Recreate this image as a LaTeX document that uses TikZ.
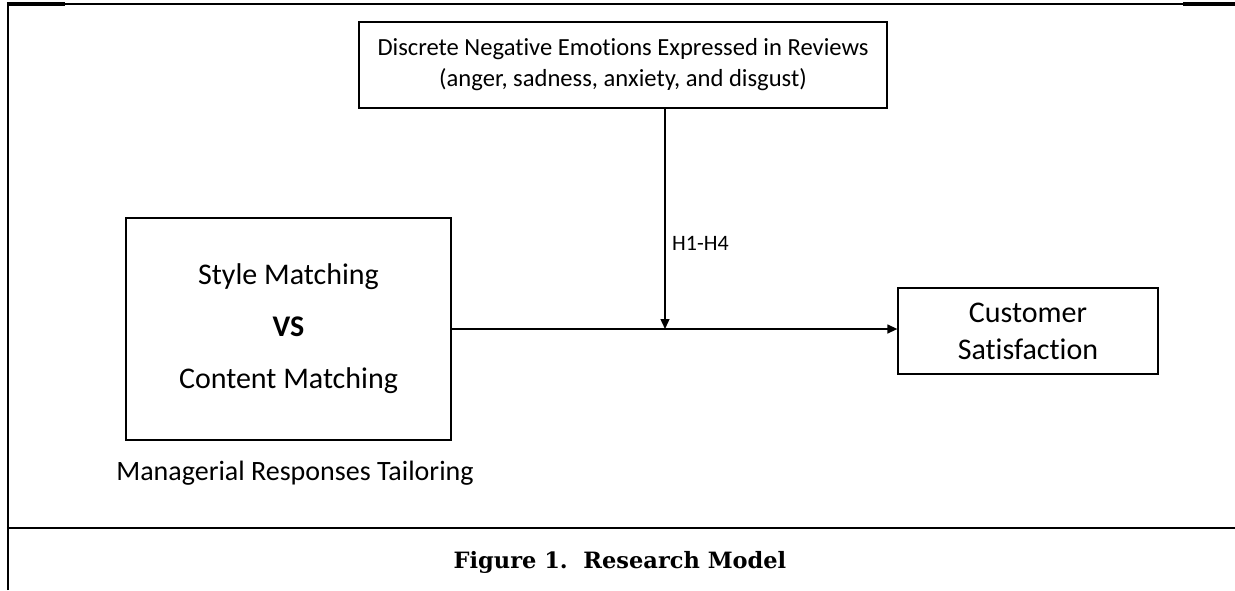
\documentclass[tikz,border=0pt]{standalone}
\usepackage{fontspec}
\setmainfont{Carlito}[Ligatures={NoCommon}]
\newfontfamily\capfont{DejaVu Serif}
\usetikzlibrary{arrows.meta}
\begin{document}
\begin{tikzpicture}[x=1pt,y=-1pt,
  box/.style={draw, line width=1.3pt, inner sep=0pt, align=center},
  arr/.style={line width=1.3pt, -{Triangle[length=10pt,width=9pt]}},
  frame/.style={line width=2.2pt}]
\useasboundingbox (0,0) rectangle (1235,590);
% frame
\draw[frame] (8,590) -- (8,4) -- (1235,4);
\draw[line width=3.6pt] (6.9,4) -- (65,4);
\draw[line width=3.6pt] (1183,4) -- (1235,4);
\draw[line width=2.6pt] (6.9,528) -- (1235,528);
% nodes
\node[box, minimum width=528pt, minimum height=86pt, font=\fontsize{24.6}{31}\selectfont] (emo) at (623,65)
  {Discrete Negative Emotions Expressed in Reviews\\(anger, sadness, anxiety, and disgust)};
\node[box, minimum width=325pt, minimum height=222pt, font=\fontsize{30}{37}\selectfont] (sm) at (288.5,329)
  {\raisebox{0pt}[\height][\depth]{Style Matching}\\[15pt]\textbf{VS}\\[15pt]Content Matching};
\node[box, minimum width=260pt, minimum height=86pt, font=\fontsize{30}{37}\selectfont] (cs) at (1028,331)
  {Customer\\Satisfaction};
\node[inner sep=0pt, font=\fontsize{28}{34}\selectfont] (mrt) at (295,473) {Managerial Responses Tailoring};
\node[inner sep=0pt, anchor=west, font=\fontsize{22}{27}\selectfont] (h) at (672,243) {H1-H4};
\node[inner sep=0pt, font=\capfont\bfseries\fontsize{22.5}{27}\selectfont] (cap) at (620,562) {Figure 1.\ \ Research Model};
\coordinate (j) at (665,329);
% connectors
\draw[arr] (sm.east) -- (sm.east -| cs.west);
\draw[arr] (j |- emo.south) -- (j);
\end{tikzpicture}
\end{document}
